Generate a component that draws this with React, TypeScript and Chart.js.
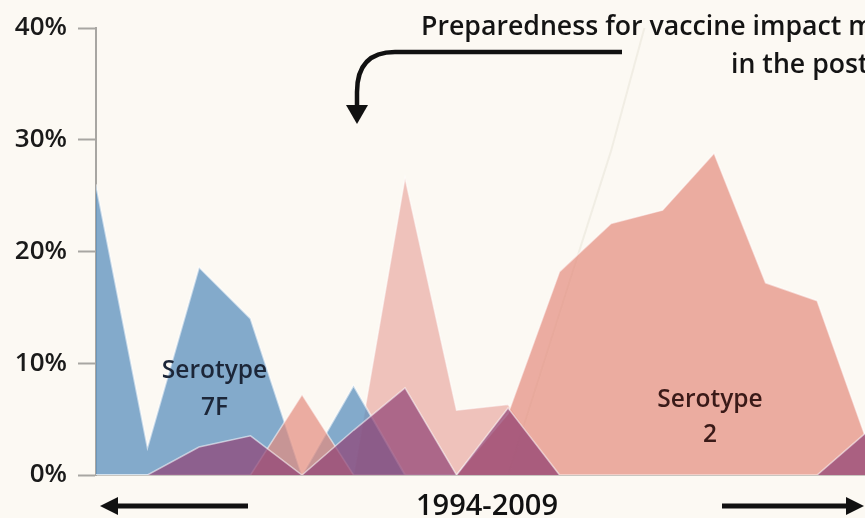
import React, { useEffect, useRef } from "react";
import { Chart, registerables } from "chart.js";

Chart.register(...registerables);

const BG = "#fcf9f3";

// 1994-2009, one value per year (% of isolates)
const years = [1994, 1995, 1996, 1997, 1998, 1999, 2000, 2001, 2002, 2003, 2004, 2005, 2006, 2007, 2008, 2009];
const serotype7F = [26, 2.5, 18.6, 14, 0, 8, 0, 0, 0, 0, 0, 0, 0, 0, 0, 0];
const serotype2 = [0, 0, 0, 0, 7.2, 0, 0, 0, 5.5, 18.2, 22.5, 23.7, 28.8, 17.2, 15.6, 2.6];
const serotypePink = [0, 0, 0, 0, 0, 0, 26.6, 5.8, 6.3, 0, 0, 0, 0, 0, 0, 0];
const serotypePurple = [0, 0, 2.5, 3.5, 0, 4, 7.8, 0, 6, 0, 0, 0, 0, 0, 0, 4];
const serotypePale = [0, 0, 0, 0, 0, 0, 0, 0, 0, 14.5, 29, 46, 46, 46, 46, 46];
const yTicks = [0, 10, 20, 30, 40];

const FONT = "'Open Sans', 'DejaVu Sans', sans-serif";

const toPoints = (arr: number[]) => arr.map((v, i) => ({ x: i, y: v }));

const annotations = {
  id: "annotations",
  afterDraw(chart: any) {
    const { ctx, scales } = chart;
    const xs = scales.x;
    const ys = scales.y;
    ctx.save();

    // Serotype labels
    ctx.textAlign = "center";
    ctx.textBaseline = "middle";
    ctx.font = `600 24.5px ${FONT}`;
    ctx.fillStyle = "#1c2638";
    ctx.fillText("Serotype", xs.getPixelForValue(2.3), ys.getPixelForValue(9.3));
    ctx.fillText("7F", xs.getPixelForValue(2.3), ys.getPixelForValue(6.0));
    ctx.fillStyle = "#3a1a18";
    ctx.fillText("Serotype", xs.getPixelForValue(11.92), ys.getPixelForValue(6.7));
    ctx.fillText("2", xs.getPixelForValue(11.92), ys.getPixelForValue(3.6));

    // Top annotation
    ctx.fillStyle = "#141414";
    ctx.textAlign = "left";
    ctx.textBaseline = "alphabetic";
    ctx.font = `600 26.7px ${FONT}`;
    ctx.fillText("Preparedness for vaccine impact m", 421, 35);
    ctx.fillText("in the post", 731, 73);

    // Curved arrow
    ctx.strokeStyle = "#111";
    ctx.lineWidth = 4.5;
    ctx.lineCap = "butt";
    ctx.beginPath();
    ctx.moveTo(622, 52);
    ctx.lineTo(395, 52);
    ctx.quadraticCurveTo(357, 52, 357, 92);
    ctx.lineTo(357, 108);
    ctx.stroke();
    ctx.fillStyle = "#111";
    ctx.beginPath();
    ctx.moveTo(346, 105);
    ctx.lineTo(368, 105);
    ctx.lineTo(357, 124);
    ctx.closePath();
    ctx.fill();

    // Bottom axis caption and arrows
    ctx.textAlign = "center";
    ctx.textBaseline = "alphabetic";
    ctx.font = `600 29px ${FONT}`;
    ctx.fillText("1994-2009", 487, 515);

    ctx.lineWidth = 5;
    ctx.beginPath();
    ctx.moveTo(248, 506);
    ctx.lineTo(114, 506);
    ctx.stroke();
    ctx.beginPath();
    ctx.moveTo(100, 506);
    ctx.lineTo(118, 497);
    ctx.lineTo(118, 515);
    ctx.closePath();
    ctx.fill();

    ctx.beginPath();
    ctx.moveTo(722, 506);
    ctx.lineTo(850, 506);
    ctx.stroke();
    ctx.beginPath();
    ctx.moveTo(864, 506);
    ctx.lineTo(846, 497);
    ctx.lineTo(846, 515);
    ctx.closePath();
    ctx.fill();

    ctx.restore();
  },
};

export default function App() {
  const ref = useRef<HTMLCanvasElement>(null);

  useEffect(() => {
    document.body.style.margin = "0";
    document.body.style.background = BG;
    document.body.style.overflow = "hidden";
    const canvas = ref.current!;
    const edge = "rgba(255,255,255,0.55)";
    const chart = new Chart(canvas, {
      type: "line",
      data: {
        datasets: [
          {
            label: "Purple",
            data: toPoints(serotypePurple),
            backgroundColor: "rgba(145,68,118,0.72)",
            borderColor: edge,
            borderWidth: 1.5,
            fill: "origin",
          },
          {
            label: "Serotype 2",
            data: toPoints(serotype2),
            backgroundColor: "rgba(228,140,126,0.7)",
            borderColor: edge,
            borderWidth: 1.5,
            fill: "origin",
          },
          {
            label: "Serotype 7F",
            data: toPoints(serotype7F),
            backgroundColor: "rgba(92,144,190,0.76)",
            borderColor: edge,
            borderWidth: 2,
            fill: "origin",
          },
          {
            label: "Pink",
            data: toPoints(serotypePink),
            backgroundColor: "rgba(230,160,152,0.62)",
            borderColor: edge,
            borderWidth: 1.5,
            fill: "origin",
          },
          {
            label: "Pale",
            data: toPoints(serotypePale),
            backgroundColor: "rgba(252,249,243,0.6)",
            borderColor: "rgba(240,236,226,0.9)",
            borderWidth: 2,
            fill: "origin",
          },
        ],
      },
      options: {
        animation: false,
        responsive: false,
        maintainAspectRatio: false,
        layout: { padding: { top: 28, right: 0, left: 0, bottom: 0 } },
        plugins: { legend: { display: false }, tooltip: { enabled: false } },
        elements: { point: { radius: 0 }, line: { tension: 0 } },
        scales: {
          x: {
            type: "linear",
            min: 0,
            max: years.length - 1.07,
            ticks: { display: false },
            grid: { display: false },
            border: { display: true, color: "#c9c6c0", width: 2 },
            afterFit: (s: any) => {
              s.height = 43;
            },
          },
          y: {
            min: yTicks[0],
            max: yTicks[yTicks.length - 1],
            afterBuildTicks: (s: any) => {
              s.ticks = yTicks.map((v) => ({ value: v }));
            },
            ticks: {
              callback: (v: any) => `${v}%`,
              color: "#1a1a1a",
              font: { family: FONT, size: 26, weight: "600" },
              padding: 11,
            },
            grid: { drawOnChartArea: false, tickLength: 18, tickColor: "#a8a6a2", tickWidth: 2 },
            border: { display: true, color: "#a8a6a2", width: 2 },
            afterFit: (s: any) => {
              s.width = 96;
            },
          },
        },
      },
      plugins: [annotations],
    });
    return () => chart.destroy();
  }, []);

  return (
    <div style={{ width: 865, height: 518, background: BG, overflow: "hidden" }}>
      <canvas ref={ref} width={865} height={518} style={{ display: "block" }} />
    </div>
  );
}
